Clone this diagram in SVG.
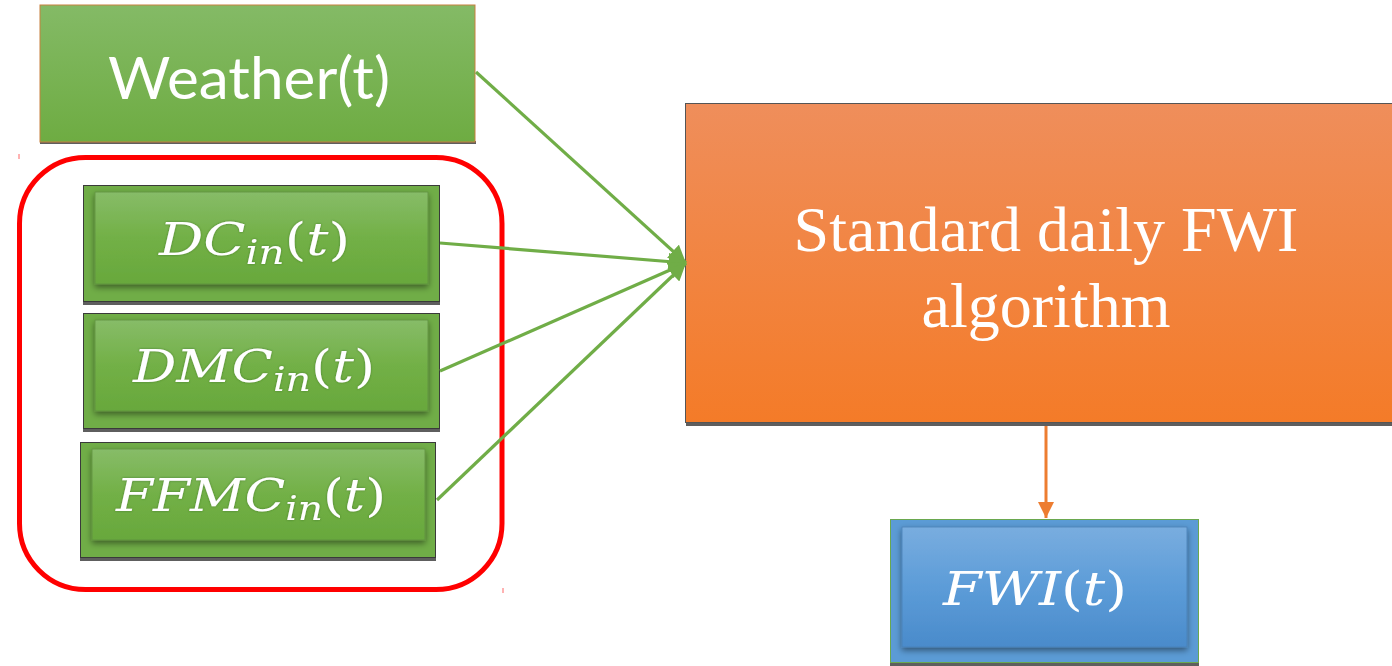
<svg xmlns="http://www.w3.org/2000/svg" width="1392" height="666" viewBox="0 0 1392 666">
  <defs>
    <linearGradient id="gGreen" x1="0" y1="0" x2="0" y2="1">
      <stop offset="0" stop-color="#84ba66"/>
      <stop offset="1" stop-color="#6eac42"/>
    </linearGradient>
    <linearGradient id="gGreenInner" x1="0" y1="0" x2="0" y2="1">
      <stop offset="0" stop-color="#87bc68"/>
      <stop offset="0.5" stop-color="#72b046"/>
      <stop offset="1" stop-color="#68a83c"/>
    </linearGradient>
    <linearGradient id="gOrange" x1="0" y1="0" x2="0" y2="1">
      <stop offset="0" stop-color="#ef8e5b"/>
      <stop offset="1" stop-color="#f47b28"/>
    </linearGradient>
    <linearGradient id="gBlueInner" x1="0" y1="0" x2="0" y2="1">
      <stop offset="0" stop-color="#79addf"/>
      <stop offset="0.5" stop-color="#5c9cd8"/>
      <stop offset="1" stop-color="#4a8bcb"/>
    </linearGradient>
    <filter id="innerShadow" x="-10%" y="-20%" width="120%" height="150%">
      <feDropShadow dx="0" dy="3" stdDeviation="3" flood-color="#000" flood-opacity="0.45"/>
    </filter>
    <filter id="textGlow" x="-10%" y="-30%" width="120%" height="160%">
      <feDropShadow dx="0" dy="0" stdDeviation="1.2" flood-color="#2f5a1a" flood-opacity="0.6"/>
    </filter>
    <marker id="arrGreen" viewBox="0 0 10 10" refX="10" refY="5" markerWidth="5.5" markerHeight="5.5" markerUnits="strokeWidth" orient="auto">
      <path d="M0,0 L10,5 L0,10 Z" fill="#70ad47"/>
    </marker>
    <marker id="arrOrange" viewBox="0 0 10 10" refX="10" refY="5" markerWidth="5.5" markerHeight="5.5" markerUnits="strokeWidth" orient="auto">
      <path d="M0,0 L10,5 L0,10 Z" fill="#ed7d31"/>
    </marker>
  </defs>
  <style>
    .math { font-family: "DejaVu Serif", "Liberation Serif", serif; fill: #ffffff; font-style: italic; }
    .up { font-style: normal; }
    .outer { fill: #70ad47; stroke: #3a3a3a; stroke-width: 1; }
    .inner { fill: url(#gGreenInner); stroke: #5f8f42; stroke-width: 0.8; filter: url(#innerShadow); }
    .shadowbar { fill: #5e5e5e; }
    .conn { stroke: #70ad47; stroke-width: 3.2; fill: none; marker-end: url(#arrGreen); }
  </style>

  <rect width="1392" height="666" fill="#ffffff"/>

  <!-- Weather input -->
  <g id="weather">
    <rect x="40" y="141" width="436" height="3" class="shadowbar"/>
    <rect x="40" y="5" width="435" height="137" fill="url(#gGreen)" stroke="#c8803f" stroke-width="1"/>
    <text x="249" y="99" text-anchor="middle" font-family="Lato, 'Open Sans', sans-serif" font-size="58" fill="#ffffff" textLength="282" lengthAdjust="spacingAndGlyphs">Weather(t)</text>
  </g>

  <!-- grouping frame around the code inputs -->
  <g id="inputs-frame">
    <rect x="19.5" y="157.5" width="482.5" height="432" rx="66" ry="66" fill="none" stroke="#ff0000" stroke-width="5"/>
    <line x1="19" y1="154" x2="19" y2="159" stroke="#ff0000" stroke-width="1" opacity="0.6"/>
    <line x1="503" y1="588" x2="503" y2="593" stroke="#ff0000" stroke-width="1" opacity="0.6"/>
  </g>

  <!-- DC input -->
  <g id="dc">
    <rect x="83" y="301" width="357" height="4" class="shadowbar"/>
    <rect x="83.5" y="185.5" width="356" height="116" class="outer"/>
    <rect x="95" y="192" width="333" height="92" class="inner"/>
    <text class="math" x="159" y="255" font-size="45" textLength="191" lengthAdjust="spacingAndGlyphs" filter="url(#textGlow)">DC<tspan font-size="33" dy="9">in</tspan><tspan class="up" dy="-9">(</tspan>t<tspan class="up">)</tspan></text>
  </g>

  <!-- DMC input -->
  <g id="dmc">
    <rect x="83" y="428" width="357" height="4" class="shadowbar"/>
    <rect x="83.5" y="313.5" width="356" height="115" class="outer"/>
    <rect x="95" y="320" width="333" height="91" class="inner"/>
    <text class="math" x="133" y="382" font-size="45" textLength="242" lengthAdjust="spacingAndGlyphs" filter="url(#textGlow)">DMC<tspan font-size="33" dy="9">in</tspan><tspan class="up" dy="-9">(</tspan>t<tspan class="up">)</tspan></text>
  </g>

  <!-- FFMC input -->
  <g id="ffmc">
    <rect x="80" y="557" width="356" height="4" class="shadowbar"/>
    <rect x="80.5" y="442.5" width="355" height="115" class="outer"/>
    <rect x="92" y="449" width="333" height="91" class="inner"/>
    <text class="math" x="116" y="511" font-size="45" textLength="270" lengthAdjust="spacingAndGlyphs" filter="url(#textGlow)">FFMC<tspan font-size="33" dy="9">in</tspan><tspan class="up" dy="-9">(</tspan>t<tspan class="up">)</tspan></text>
  </g>

  <!-- FWI algorithm -->
  <g id="algorithm">
    <rect x="686" y="422" width="706" height="4" class="shadowbar"/>
    <rect x="685.5" y="103.5" width="710" height="319" fill="url(#gOrange)" stroke="#555555" stroke-width="1"/>
    <text x="1046" y="251" text-anchor="middle" font-family="'Liberation Serif', 'Times New Roman', serif" font-size="64" fill="#ffffff">Standard daily FWI</text>
    <text x="1046" y="327" text-anchor="middle" font-family="'Liberation Serif', 'Times New Roman', serif" font-size="64" fill="#ffffff">algorithm</text>
  </g>

  <!-- FWI output -->
  <g id="fwi">
    <rect x="890" y="662" width="309" height="4" class="shadowbar"/>
    <rect x="890.5" y="519.5" width="308" height="143" fill="#5b9bd5" stroke="#6aa84f" stroke-width="1"/>
    <rect x="902" y="527" width="285" height="120" fill="url(#gBlueInner)" stroke="#4a7fb5" stroke-width="0.8" filter="url(#innerShadow)"/>
    <text class="math" x="943" y="605" font-size="46" textLength="184" lengthAdjust="spacingAndGlyphs">FWI<tspan class="up">(</tspan>t<tspan class="up">)</tspan></text>
  </g>

  <!-- connectors -->
  <g id="connectors">
    <line class="conn" x1="476" y1="72" x2="686" y2="263"/>
    <line class="conn" x1="440" y1="243" x2="686" y2="263"/>
    <line class="conn" x1="440" y1="371" x2="686" y2="263"/>
    <line class="conn" x1="437" y1="500" x2="686" y2="263"/>
    <line x1="1046" y1="426" x2="1046" y2="518" stroke="#ed7d31" stroke-width="3" marker-end="url(#arrOrange)"/>
  </g>
</svg>
